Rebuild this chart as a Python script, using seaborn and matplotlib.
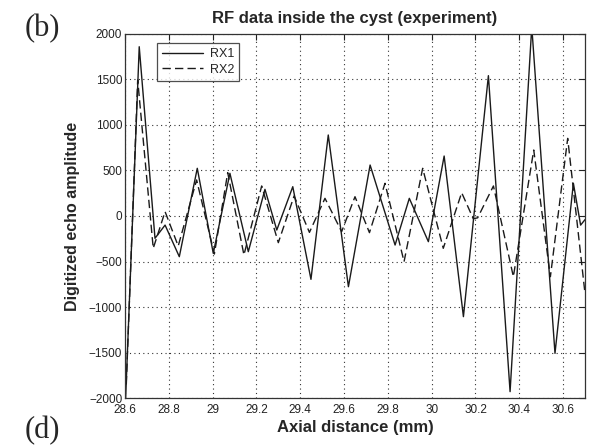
import numpy as np
import pandas as pd
import matplotlib
matplotlib.use("Agg")
import matplotlib.pyplot as plt
import seaborn as sns

# RF echo traces (peaks / troughs, mm vs amplitude)
rx1_x = [28.603, 28.665, 28.737, 28.783, 28.848, 28.930, 29.003, 29.079, 29.163,
         29.239, 29.293, 29.366, 29.449, 29.528, 29.620, 29.719, 29.833, 29.898,
         29.985, 30.057, 30.145, 30.259, 30.358, 30.457, 30.563, 30.647, 30.680, 30.700]
rx1_y = [-2000, 1860, -245, -100, -447, 524, -410, 469, -392,
         293, -154, 322, -696, 890, -777, 560, -319, 194,
         -282, 659, -1106, 1542, -1930, 2080, -1509, 359, -100, -40]

rx2_x = [28.606, 28.658, 28.729, 28.783, 28.843, 28.927, 29.008, 29.069, 29.143,
         29.224, 29.300, 29.372, 29.442, 29.513, 29.589, 29.650, 29.716, 29.787,
         29.874, 29.959, 30.053, 30.137, 30.190, 30.210, 30.282, 30.373, 30.466,
         30.542, 30.621, 30.700]
rx2_y = [-1850, 1495, -355, 48, -330, 396, -418, 476, -428,
         330, -293, 220, -180, 194, -172, 212, -183, 359,
         -502, 524, -355, 256, -30, -20, 330, -667, 725,
         -667, 853, -850]

df = pd.concat([
    pd.DataFrame({"x": rx1_x, "y": rx1_y, "series": "RX1"}),
    pd.DataFrame({"x": rx2_x, "y": rx2_y, "series": "RX2"}),
])

sns.set_style("white")
plt.rcParams['font.family'] = ['Liberation Sans', 'DejaVu Sans']

fig = plt.figure(figsize=(5.89, 4.46), dpi=100)
ax = fig.add_axes([0.2122, 0.1076, 0.781, 0.8162])

sns.lineplot(data=df, x="x", y="y", style="series", sort=False, estimator=None,
             color="#1a1a1a", linewidth=1.0, ax=ax,
             dashes={"RX1": "", "RX2": (6, 3)})

ax.set_xlim(28.6, 30.7)
ax.set_ylim(-2000, 2000)
ax.set_xticks(np.arange(28.6, 30.61, 0.2))
ax.set_xticklabels(["28.6", "28.8", "29", "29.2", "29.4", "29.6", "29.8",
                    "30", "30.2", "30.4", "30.6"])
ax.set_yticks(np.arange(-2000, 2001, 500))
ax.tick_params(direction="in", length=4, labelsize=8.5, colors="#222222",
               top=True, right=True, pad=2)
ax.tick_params(axis="x", pad=4)
ax.grid(True, linestyle=(0, (1, 3)), color="#333333", linewidth=0.8)
for s in ax.spines.values():
    s.set_color("#333333")
    s.set_linewidth(0.9)

ax.set_title("RF data inside the cyst (experiment)", fontsize=12, fontweight="bold", pad=8)
ax.set_xlabel("Axial distance (mm)", fontsize=12, fontweight="bold", labelpad=3)
ax.set_ylabel("Digitized echo amplitude", fontsize=11.5, fontweight="bold", labelpad=6)

leg = ax.legend(loc="upper left", bbox_to_anchor=(0.07, 0.975), fontsize=9,
                handlelength=3.3, frameon=True, fancybox=False, borderpad=0.4,
                labelspacing=0.3, borderaxespad=0, handletextpad=0.5)
leg.get_frame().set_edgecolor("#222222")
leg.get_frame().set_linewidth(0.9)

fig.text(0.042, 0.935, "(b)", fontsize=22, family="Liberation Serif", va="center")
fig.text(0.042, 0.035, "(d)", fontsize=22, family="Liberation Serif", va="center")

fig.savefig("out.png", dpi=100)
